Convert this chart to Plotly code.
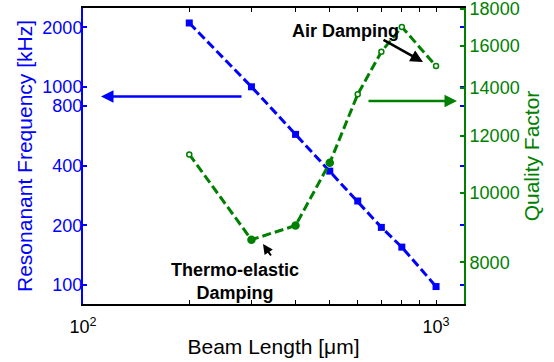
import math
import plotly.graph_objects as go

# ---- data ----
beam_length_um = [200, 300, 400, 500, 600, 700, 800, 1000]
resonant_freq_khz = [2100, 1000, 575, 375, 265, 195, 155, 98]
quality_factor = [11300, 8600, 9000, 11000, 13700, 15700, 17000, 15000]

freq_ticks = [100, 200, 400, 800, 1000, 2000]
q_ticks = [8000, 10000, 12000, 14000, 16000, 18000]
x_ticks = [100, 200, 300, 400, 500, 600, 700, 800, 900, 1000]
x_ticktext = ["10<sup>2</sup>", "", "", "", "", "", "", "", "", "10<sup>3</sup>"]

BLUE = "#0000ff"
GREEN = "#008000"
BLACK = "#000000"
WHITE = "#ffffff"
FONT = "Arial, 'Liberation Sans', sans-serif"

W, H = 554, 362
L, R, T, B = 83, 90, 8, 58
PW, PH = W - L - R, H - T - B


def px(x):
    return (x - L) / PW


def py(y):
    return (H - B - y) / PH


fig = go.Figure()
fig.add_trace(go.Scatter(
    x=beam_length_um, y=resonant_freq_khz, mode="lines+markers",
    line=dict(color=BLUE, width=3, dash="9px,4px"),
    marker=dict(symbol="square", size=7, color=BLUE, line=dict(width=0)),
    yaxis="y", showlegend=False, cliponaxis=False))
fig.add_trace(go.Scatter(
    x=beam_length_um, y=quality_factor, mode="lines+markers",
    line=dict(color=GREEN, width=3, dash="9px,4px"),
    marker=dict(symbol="circle",
                size=[5, 7, 7, 7, 5, 5, 5, 5],
                color=[WHITE, GREEN, GREEN, GREEN, WHITE, WHITE, WHITE, WHITE],
                opacity=1,
                line=dict(color=GREEN, width=1.5)),
    yaxis="y2", showlegend=False, cliponaxis=False))

annotations = [
    dict(xref="paper", yref="paper", x=px(101), y=py(96.5), ax=142, ay=0,
         text="", showarrow=True, arrowhead=2, arrowsize=1, arrowwidth=2.5,
         arrowcolor=BLUE),
    dict(xref="paper", yref="paper", x=px(457), y=py(101), ax=-90, ay=0,
         text="", showarrow=True, arrowhead=2, arrowsize=1, arrowwidth=2.5,
         arrowcolor=GREEN),
    dict(xref="paper", yref="paper", x=px(423), y=py(62), ax=-41, ay=-23,
         text="", showarrow=True, arrowhead=2, arrowsize=1, arrowwidth=2.5,
         arrowcolor=BLACK),
    dict(xref="paper", yref="paper", x=px(263), y=py(244), ax=9, ay=13,
         text="", showarrow=True, arrowhead=2, arrowsize=1, arrowwidth=2,
         arrowcolor=BLACK),
    dict(xref="paper", yref="paper", x=px(345), y=py(31), text="<b>Air Damping</b>",
         xanchor="center", yanchor="middle",
         showarrow=False, font=dict(family=FONT, size=18, color=BLACK)),
    dict(xref="paper", yref="paper", x=px(235), y=py(281),
         text="<b>Thermo-elastic<br>Damping</b>", showarrow=False,
         xanchor="center", yanchor="middle",
         font=dict(family=FONT, size=18, color=BLACK)),
]

fig.update_layout(
    width=W, height=H,
    margin=dict(l=L, r=R, t=T, b=B, autoexpand=False),
    paper_bgcolor="white", plot_bgcolor="white",
    font=dict(family=FONT),
    showlegend=False,
    xaxis=dict(
        type="log", range=[2, math.log10(1200)], automargin=False,
        tickmode="array", tickvals=x_ticks, ticktext=x_ticktext,
        ticks="inside", ticklen=4, tickcolor=BLACK, tickwidth=1,
        showline=True, linecolor=BLACK, linewidth=1.5, mirror="ticks",
        showgrid=False, zeroline=False, ticklabelstandoff=6,
        tickfont=dict(family=FONT, size=18, color=BLACK),
        title=dict(text="Beam Length [μm]", font=dict(family=FONT, size=21, color=BLACK),
                   standoff=3),
    ),
    yaxis=dict(
        type="log", range=[math.log10(80), math.log10(2500)], automargin=False,
        tickmode="array", tickvals=freq_ticks, ticktext=[str(v) for v in freq_ticks],
        ticks="inside", ticklen=4, tickcolor=BLUE, tickwidth=1.5,
        showline=True, linecolor=BLUE, linewidth=2, mirror="ticks",
        showgrid=False, zeroline=False, ticklabelstandoff=-5,
        ticklabeloverflow="allow",
        tickfont=dict(family=FONT, size=18, color=BLUE),
        title=dict(text="Resonanant Frequency [kHz]",
                   font=dict(family=FONT, size=21, color=BLUE), standoff=4),
    ),
    yaxis2=dict(
        type="log", range=[math.log10(7000), math.log10(18000) + 0.0015], automargin=False,
        overlaying="y", side="right", anchor="x",
        tickmode="array", tickvals=q_ticks, ticktext=[str(v) for v in q_ticks],
        ticks="inside", ticklen=4, tickcolor=GREEN, tickwidth=1.5,
        showline=True, linecolor=GREEN, linewidth=2,
        showgrid=False, zeroline=False, ticklabeloverflow="allow",
        tickfont=dict(family=FONT, size=18, color=GREEN),
        title=dict(text="Quality Factor", font=dict(family=FONT, size=21, color=GREEN),
                   standoff=2),
    ),
    annotations=annotations,
)

fig.write_html(
    "out.html",
    config={"displayModeBar": False},
    post_script="document.body.style.margin='0';document.body.style.padding='0';",
)
